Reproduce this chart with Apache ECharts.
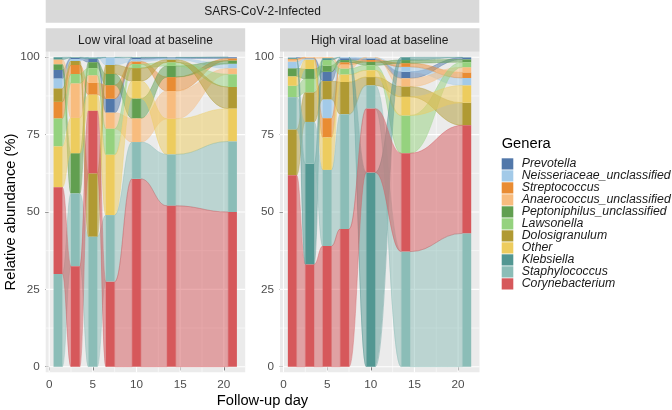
<!DOCTYPE html>
<html><head><meta charset="utf-8">
<script src="https://cdn.jsdelivr.net/npm/echarts@6/dist/echarts.min.js"></script>
<style>html,body{margin:0;padding:0;background:#fff}#c{width:672px;height:410px}</style>
</head><body><div id="c"></div>
<script>
// ---------- data ----------
const genera = ['Prevotella','Neisseriaceae_unclassified','Streptococcus','Anaerococcus_unclassified','Peptoniphilus_unclassified','Lawsonella','Dolosigranulum','Other','Klebsiella','Staphylococcus','Corynebacterium'];
const colors = ['#5278AA','#A3CAE8','#E98C33','#F8BC7E','#619F50','#95D27E','#B09A33','#EDCC5E','#529792','#8BBDB7','#D6585B'];
const days = [1,3,5,7,10,14,21];
const xTicks = [0,5,10,15,20];
const yTicks = [0,25,50,75,100];
const panelTitles = ['Low viral load at baseline','High viral load at baseline'];
const facetTitle = 'SARS-CoV-2-Infected';

// Low viral load at baseline (relative abundance % per follow-up day)
const low_Prevotella      = [2.8, 0.4, 1.1, 4.5, 0.5, 0.3, 0.4];
const low_Neisseriaceae   = [3.2, 0.6, 0.1, 2.4, 0.7, 0.4, 1.5];
const low_Streptococcus   = [5.4, 2.9, 3.8, 4.4, 0.8, 4.5, 0.7];
const low_Anaerococcus    = [1.6, 11.2, 2.5, 5.2, 7.7, 9.0, 1.9];
const low_Peptoniphilus   = [1.8, 13.0, 1.9, 3.6, 6.4, 3.6, 1.0];
const low_Lawsonella      = [9.0, 3.0, 2.3, 8.4, 1.3, 1.2, 4.1];
const low_Dolosigranulum  = [4.3, 1.3, 20.5, 2.9, 4.2, 0.8, 7.0];
const low_Other           = [13.2, 11.4, 5.2, 19.5, 5.6, 11.5, 10.6];
const low_Klebsiella      = [0.7, 0.2, 0.4, 0.1, 0.2, 0.1, 0.0];
const low_Staphylococcus  = [30.0, 23.5, 42.0, 21.5, 11.9, 16.6, 22.8];
const low_Corynebacterium = [28.0, 32.5, 20.2, 27.5, 60.7, 52.0, 50.0];

// High viral load at baseline
const high_Prevotella      = [0.1, 0.2, 3.0, 0.6, 0.5, 2.1, 0.6];
const high_Neisseriaceae   = [2.2, 0.3, 6.1, 0.3, 0.3, 1.6, 2.4];
const high_Streptococcus   = [0.3, 0.1, 6.2, 0.8, 0.6, 1.2, 1.8];
const high_Anaerococcus    = [0.6, 0.2, 0.3, 1.3, 0.1, 2.7, 1.7];
const high_Peptoniphilus   = [2.6, 3.2, 2.0, 0.7, 1.1, 1.0, 0.9];
const high_Lawsonella      = [3.7, 4.4, 1.8, 1.9, 1.6, 12.2, 1.6];
const high_Dolosigranulum  = [14.8, 9.5, 5.9, 10.4, 2.7, 3.3, 7.3];
const high_Other           = [3.0, 3.0, 10.5, 2.4, 2.2, 6.0, 5.6];
const high_Klebsiella      = [0.3, 32.6, 0.6, 0.0, 62.8, 0.9, 0.1];
const high_Staphylococcus  = [10.4, 13.5, 24.6, 37.1, 7.5, 37.2, 43.1];
const high_Corynebacterium = [61.9, 33.0, 39.0, 44.5, 20.6, 31.8, 34.9];

const lowValues = [low_Prevotella, low_Neisseriaceae, low_Streptococcus, low_Anaerococcus, low_Peptoniphilus, low_Lawsonella, low_Dolosigranulum, low_Other, low_Klebsiella, low_Staphylococcus, low_Corynebacterium];
const highValues = [high_Prevotella, high_Neisseriaceae, high_Streptococcus, high_Anaerococcus, high_Peptoniphilus, high_Lawsonella, high_Dolosigranulum, high_Other, high_Klebsiella, high_Staphylococcus, high_Corynebacterium];
const panelValues = [lowValues, highValues];

// ---------- layout / style ----------
const FONT = 'Liberation Sans, Arial, sans-serif';
const BAR_W = 1;       // stratum width in day units
const CURVE_K = 0.45;  // flow curvature
const GRID = [{left:45.7, top:51.7, width:199.5, height:320.6},{left:280, top:51.7, width:199.5, height:320.6}];

function rgba(hex, a){
  const n = parseInt(hex.slice(1),16);
  return 'rgba(' + ((n>>16)&255) + ',' + ((n>>8)&255) + ',' + (n&255) + ',' + a + ')';
}

// stacked lodes per day: largest stratum at the bottom
function computeStacks(vals){
  return days.map((_, d) => {
    const order = genera.map((_, g) => g).sort((a, b) => (vals[b][d] - vals[a][d]) || (a - b));
    const out = []; let cum = 0;
    order.forEach(g => { out[g] = [cum, cum + vals[g][d]]; cum += vals[g][d]; });
    return out;
  });
}
const stacks = panelValues.map(computeStacks);

const chart = echarts.init(document.getElementById('c'), null, {renderer:'canvas'});

const grids = GRID.map(g => Object.assign({show:true, backgroundColor:'#EBEBEB', borderWidth:0}, g));
const xAxes = GRID.map((_, p) => ({
  gridIndex:p, type:'value', min:-0.4, max:22.45,
  axisLine:{show:false},
  axisTick:{show:true, length:3.7, customValues:xTicks, lineStyle:{color:'#333333', width:1}},
  axisLabel:{customValues:xTicks, color:'#4D4D4D', fontSize:11.7, margin:6.5, fontFamily:FONT},
  splitLine:{show:false}
}));
const yAxes = GRID.map((_, p) => ({
  gridIndex:p, type:'value', min:-1.8, max:101.8,
  axisLine:{show:false},
  axisTick:{show:true, length:3.7, customValues:yTicks, lineStyle:{color:'#333333', width:1}},
  axisLabel:{customValues:yTicks, color:'#4D4D4D', fontSize:11.7, margin:6, fontFamily:FONT},
  splitLine:{show:false}
}));

const series = [];
GRID.forEach((_, p) => {
  // grid lines
  series.push({
    type:'custom', xAxisIndex:p, yAxisIndex:p, z:1, silent:true,
    data:[[0,0]],
    renderItem:function(params, api){
      const cs = params.coordSys; const kids = [];
      for (let v = 0; v <= 100; v += 12.5){
        const y = api.coord([0, v])[1];
        const major = (v % 25 === 0);
        kids.push({type:'line', shape:{x1:cs.x, y1:y, x2:cs.x+cs.width, y2:y}, style:{stroke:'#FFFFFF', lineWidth: major ? 1.1 : 0.55}});
      }
      for (let v = 0; v <= 22.4; v += 2.5){
        const x = api.coord([v, 0])[0];
        const major = (v % 5 === 0);
        kids.push({type:'line', shape:{x1:x, y1:cs.y, x2:x, y2:cs.y+cs.height}, style:{stroke:'#FFFFFF', lineWidth: major ? 1.1 : 0.55}});
      }
      return {type:'group', children:kids};
    }
  });
  // flows
  const flowData = [];
  for (let d = 0; d < days.length - 1; d++) for (let g = 0; g < genera.length; g++) flowData.push([g, d]);
  series.push({
    type:'custom', xAxisIndex:p, yAxisIndex:p, z:2, silent:true,
    data:flowData,
    renderItem:function(params, api){
      const g = api.value(0), d = api.value(1);
      const a = stacks[p][d][g], b = stacks[p][d+1][g];
      const x0 = days[d] + BAR_W/2, x1 = days[d+1] - BAR_W/2;
      const p0t = api.coord([x0, a[1]]), p0b = api.coord([x0, a[0]]);
      const p1t = api.coord([x1, b[1]]), p1b = api.coord([x1, b[0]]);
      const dx = p1t[0] - p0t[0];
      const c0 = p0t[0] + dx*CURVE_K, c1 = p1t[0] - dx*CURVE_K;
      const path = 'M' + p0t[0] + ',' + p0t[1] +
        ' C' + c0 + ',' + p0t[1] + ' ' + c1 + ',' + p1t[1] + ' ' + p1t[0] + ',' + p1t[1] +
        ' L' + p1b[0] + ',' + p1b[1] +
        ' C' + c1 + ',' + p1b[1] + ' ' + c0 + ',' + p0b[1] + ' ' + p0b[0] + ',' + p0b[1] + ' Z';
      return {type:'path', shape:{pathData:path}, style:{fill:rgba(colors[g],0.5), stroke:rgba(colors[g],0.55), lineWidth:0.7}};
    }
  });
  // strata
  const strataData = [];
  for (let d = 0; d < days.length; d++) for (let g = 0; g < genera.length; g++) strataData.push([g, d]);
  series.push({
    type:'custom', xAxisIndex:p, yAxisIndex:p, z:3, silent:true,
    data:strataData,
    renderItem:function(params, api){
      const g = api.value(0), d = api.value(1);
      const s = stacks[p][d][g];
      if (s[1] - s[0] <= 0) return null;
      const tl = api.coord([days[d] - BAR_W/2, s[1]]);
      const br = api.coord([days[d] + BAR_W/2, s[0]]);
      return {type:'rect', shape:{x:tl[0], y:tl[1], width:br[0]-tl[0], height:br[1]-tl[1]}, style:{fill:colors[g]}};
    }
  });
});

// strips, titles and legend
const graphics = [];
graphics.push({type:'rect', shape:{x:45.7, y:0, width:433.6, height:22.7}, style:{fill:'#D9D9D9'}, silent:true});
graphics.push({type:'text', x:262.5, y:12, style:{text:facetTitle, font:'12px ' + FONT, fill:'#1A1A1A', textAlign:'center', textVerticalAlign:'middle'}, silent:true});
GRID.forEach((g, p) => {
  graphics.push({type:'rect', shape:{x:g.left, y:28.3, width:g.width, height:23.4}, style:{fill:'#D9D9D9'}, silent:true});
  graphics.push({type:'text', x:g.left + g.width/2, y:40.2, style:{text:panelTitles[p], font:'12px ' + FONT, fill:'#1A1A1A', textAlign:'center', textVerticalAlign:'middle'}, silent:true});
});
graphics.push({type:'text', x:262.5, y:401, style:{text:'Follow-up day', font:'14.7px ' + FONT, fill:'#000000', textAlign:'center', textVerticalAlign:'middle'}, silent:true});
graphics.push({type:'text', x:10.5, y:212, rotation:Math.PI/2, style:{text:'Relative abundance (%)', font:'14.7px ' + FONT, fill:'#000000', textAlign:'center', textVerticalAlign:'middle'}, silent:true});
graphics.push({type:'text', x:501.7, y:143.5, style:{text:'Genera', font:'14.7px ' + FONT, fill:'#000000', textAlign:'left', textVerticalAlign:'middle'}, silent:true});
genera.forEach((name, i) => {
  const y = 158.3 + 12*i;
  graphics.push({type:'rect', shape:{x:501.7, y:y, width:11.6, height:11.2}, style:{fill:colors[i]}, silent:true});
  graphics.push({type:'text', x:521.7, y:y + 5.7, style:{text:name, font:'italic 12.3px ' + FONT, fill:'#1A1A1A', textAlign:'left', textVerticalAlign:'middle'}, silent:true});
});

chart.setOption({
  animation:false,
  backgroundColor:'#FFFFFF',
  grid:grids, xAxis:xAxes, yAxis:yAxes,
  series:series,
  graphic:graphics
});
</script>
</body></html>
